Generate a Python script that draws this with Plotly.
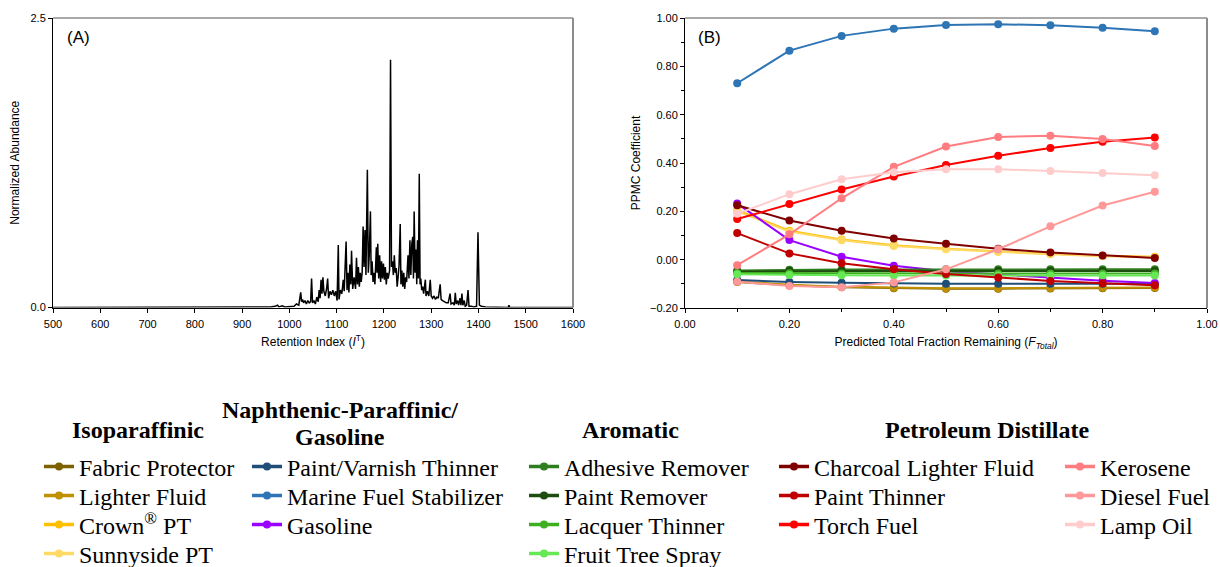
import plotly.graph_objects as go

W, H = 1220, 567

# ---------------- Panel A: chromatogram ----------------
ri = [500, 940, 960, 970, 975, 978, 985, 990, 1000, 1010, 1015, 1020, 1024, 1026, 1028, 1030,
      1033, 1036, 1039, 1042, 1045, 1047, 1049, 1052, 1055, 1058, 1061, 1063, 1065, 1067,
      1069, 1071, 1073, 1076, 1079, 1081, 1083, 1086, 1089, 1092, 1095, 1098, 1101, 1103.5,
      1105, 1108, 1111, 1114, 1116, 1120, 1122, 1124, 1126, 1128, 1130, 1131.5, 1134, 1137,
      1140, 1142, 1144, 1146, 1148, 1150, 1152, 1154, 1156, 1158, 1160, 1162, 1165, 1167,
      1169, 1171.5, 1173, 1175, 1177, 1179, 1181, 1184, 1185.5, 1187, 1189, 1191, 1193, 1195,
      1197, 1199, 1201, 1203, 1205, 1207, 1209, 1212, 1214, 1216, 1218, 1220, 1222, 1224,
      1226, 1228, 1230, 1232, 1234.5, 1236, 1238, 1240, 1242, 1244, 1246, 1248, 1251, 1253,
      1255, 1257, 1259, 1261, 1262.5, 1264, 1266, 1268, 1269.5, 1271, 1273, 1274.8, 1276.5,
      1278, 1280, 1282, 1284, 1287.7, 1289, 1292, 1295, 1298, 1300, 1303, 1306, 1309, 1312,
      1315, 1319, 1321, 1324, 1328, 1332, 1336, 1340, 1342, 1346, 1349, 1351, 1353, 1356,
      1358, 1361, 1363, 1365, 1367, 1370, 1372, 1375, 1378, 1380, 1385, 1390, 1396, 1399,
      1402, 1406, 1415, 1425, 1440, 1463, 1464.5, 1466, 1600]
abundance = [0, 0, 0.005, 0.01, 0.02, 0.005, 0.015, 0.005, 0.01, 0.01, 0.03, 0.02, 0.13, 0.05,
             0.07, 0.04, 0.06, 0.03, 0.06, 0.04, 0.05, 0.25, 0.04, 0.06, 0.03, 0.09, 0.05, 0.15,
             0.08, 0.24, 0.12, 0.26, 0.14, 0.10, 0.17, 0.25, 0.08, 0.14, 0.11, 0.15, 0.10, 0.14,
             0.06, 0.54, 0.07, 0.15, 0.12, 0.24, 0.14, 0.57, 0.15, 0.30, 0.13, 0.37, 0.20, 0.49,
             0.16, 0.26, 0.16, 0.43, 0.20, 0.35, 0.18, 0.30, 0.22, 0.30, 0.70, 0.35, 0.67, 0.28,
             1.19, 0.30, 0.45, 0.83, 0.28, 0.40, 0.22, 0.30, 0.20, 0.52, 0.30, 0.55, 0.25, 0.45,
             0.22, 0.40, 0.25, 0.38, 0.24, 0.35, 0.20, 0.30, 0.25, 0.32, 2.14, 0.35, 0.40, 0.28,
             0.45, 0.30, 0.34, 0.18, 0.26, 0.36, 0.72, 0.20, 0.32, 0.18, 0.30, 0.16, 0.26, 0.22,
             0.45, 0.25, 0.58, 0.28, 0.55, 0.61, 0.25, 0.83, 0.30, 0.50, 0.20, 0.58, 0.25, 1.155,
             0.20, 0.25, 0.15, 0.18, 0.12, 0.24, 0.10, 0.14, 0.10, 0.24, 0.10, 0.08, 0.10, 0.07,
             0.09, 0.08, 0.20, 0.07, 0.06, 0.05, 0.04, 0.04, 0.12, 0.03, 0.04, 0.02, 0.126, 0.03,
             0.06, 0.02, 0.08, 0.02, 0.12, 0.02, 0.06, 0.01, 0.02, 0.15, 0.01, 0.01, 0.005, 0.01,
             0.65, 0.02, 0.01, 0.005, 0.003, 0, 0, 0.02, 0, 0]

# ---------------- Panel B: PPMC coefficients ----------------
fraction = [0.1, 0.2, 0.3, 0.4, 0.5, 0.6, 0.7, 0.8, 0.9]

fabric_protector = [-0.092, -0.106, -0.114, -0.118, -0.120, -0.120, -0.119, -0.118, -0.117]
lighter_fluid = [-0.090, -0.104, -0.112, -0.116, -0.118, -0.118, -0.117, -0.116, -0.115]
crown_pt = [0.205, 0.120, 0.083, 0.060, 0.045, 0.034, 0.024, 0.016, 0.012]
sunnyside_pt = [0.200, 0.116, 0.080, 0.057, 0.043, 0.032, 0.022, 0.014, 0.010]
paint_varnish_thinner = [-0.084, -0.092, -0.096, -0.099, -0.100, -0.100, -0.100, -0.100, -0.100]
marine_fuel_stabilizer = [0.730, 0.865, 0.926, 0.956, 0.971, 0.974, 0.970, 0.960, 0.945]
gasoline = [0.232, 0.081, 0.012, -0.025, -0.048, -0.062, -0.076, -0.087, -0.097]
adhesive_remover = [-0.045, -0.042, -0.041, -0.041, -0.040, -0.040, -0.040, -0.040, -0.040]
paint_remover = [-0.050, -0.047, -0.047, -0.047, -0.047, -0.047, -0.047, -0.047, -0.047]
lacquer_thinner = [-0.055, -0.056, -0.057, -0.057, -0.057, -0.057, -0.057, -0.057, -0.057]
fruit_tree_spray = [-0.060, -0.063, -0.064, -0.065, -0.066, -0.066, -0.066, -0.066, -0.066]
charcoal_lighter_fluid = [0.225, 0.162, 0.120, 0.088, 0.066, 0.045, 0.030, 0.017, 0.007]
paint_thinner = [0.110, 0.026, -0.015, -0.040, -0.059, -0.074, -0.088, -0.098, -0.106]
torch_fuel = [0.168, 0.230, 0.290, 0.344, 0.392, 0.430, 0.462, 0.488, 0.506]
kerosene = [-0.023, 0.105, 0.254, 0.384, 0.468, 0.508, 0.513, 0.499, 0.470]
diesel_fuel = [-0.091, -0.109, -0.114, -0.094, -0.040, 0.043, 0.138, 0.224, 0.281]
lamp_oil = [0.190, 0.271, 0.333, 0.362, 0.374, 0.374, 0.367, 0.359, 0.349]

# legend group headers: (text, centre x px, visual centre y px)
group_headers = [("Isoparaffinic", 138, 430), ("Naphthenic-Paraffinic/", 340, 410),
                 ("Gasoline", 340, 437), ("Aromatic", 630, 430),
                 ("Petroleum Distillate", 987, 430)]

# (label, values, colour, key column text-x px, key row centre-y px)
series = [
    ("Fabric Protector", fabric_protector, "#7F6000", 80, 467),
    ("Lighter Fluid", lighter_fluid, "#BF9000", 80, 496),
    ("Crown<sup>®</sup> PT", crown_pt, "#FFC000", 80, 525),
    ("Sunnyside PT", sunnyside_pt, "#FFD966", 80, 554),
    ("Paint/Varnish Thinner", paint_varnish_thinner, "#1F4E79", 288, 467),
    ("Marine Fuel Stabilizer", marine_fuel_stabilizer, "#2E75B6", 288, 496),
    ("Gasoline", gasoline, "#9900FF", 288, 525),
    ("Adhesive Remover", adhesive_remover, "#2E7D1E", 565, 467),
    ("Paint Remover", paint_remover, "#1E4D10", 565, 496),
    ("Lacquer Thinner", lacquer_thinner, "#3FAF22", 565, 525),
    ("Fruit Tree Spray", fruit_tree_spray, "#66E855", 565, 554),
    ("Charcoal Lighter Fluid", charcoal_lighter_fluid, "#800000", 815, 467),
    ("Paint Thinner", paint_thinner, "#C00000", 815, 496),
    ("Torch Fuel", torch_fuel, "#FF0000", 815, 525),
    ("Kerosene", kerosene, "#FF7C80", 1101, 467),
    ("Diesel Fuel", diesel_fuel, "#FF9999", 1101, 496),
    ("Lamp Oil", lamp_oil, "#FFCCCC", 1101, 525),
]

fig = go.Figure()

fig.add_trace(go.Scatter(x=ri, y=abundance, mode="lines",
                         line=dict(color="black", width=1.5),
                         showlegend=False, xaxis="x", yaxis="y"))

for name, vals, color, _, _ in series:
    fig.add_trace(go.Scatter(x=fraction, y=vals, mode="lines+markers", name=name,
                             line=dict(color=color, width=2),
                             marker=dict(color=color, size=8),
                             showlegend=False, xaxis="x2", yaxis="y2"))


def px_x(p):
    return p / W


def px_y(p):
    return 1 - p / H


LEG_FONT = 24
legend_style = dict(font=dict(family="Liberation Serif, Times New Roman", size=LEG_FONT, color="black"),
                    bgcolor="rgba(0,0,0,0)", borderwidth=0, xanchor="left", yanchor="middle",
                    orientation="v", tracegroupgap=0, itemwidth=30)
layout_legends = {}
for i, (name, vals, color, tx, ty) in enumerate(series):
    lid = "legend" if i == 0 else "legend%d" % (i + 1)
    # key entry (styled like the reference key: thicker stroke)
    fig.add_trace(go.Scatter(x=[None], y=[None], mode="lines+markers", name=name,
                             line=dict(color=color, width=3.5),
                             marker=dict(color=color, size=8),
                             legend=lid, showlegend=True, xaxis="x2", yaxis="y2"))
    layout_legends[lid] = dict(x=px_x(tx - 41), y=px_y(ty), **legend_style)

axis_common = dict(showline=True, linecolor="black", linewidth=1, ticks="outside",
                   ticklen=4, tickcolor="black", showgrid=False, zeroline=False,
                   tickfont=dict(family="Liberation Sans, Arial", size=11, color="black"),
                   automargin=False)
title_font = dict(family="Liberation Sans, Arial", size=12, color="black")

fig.update_layout(
    width=W, height=H,
    margin=dict(l=0, r=0, t=0, b=0, autoexpand=False),
    paper_bgcolor="white", plot_bgcolor="white",
    xaxis=dict(domain=[px_x(53), px_x(573)], range=[500, 1600], dtick=100, tick0=500,
               ticklabelstandoff=2,
               title=dict(text="Retention Index (<i>I</i><sup>T</sup>)", standoff=8, font=title_font),
               anchor="y", **axis_common),
    yaxis=dict(domain=[px_y(307.5), px_y(18)], range=[0, 2.5], tickvals=[0, 2.5],
               ticktext=["0.0", "2.5"],
               title=dict(text="Normalized Abundance", standoff=8, font=title_font),
               anchor="x", **axis_common),
    xaxis2=dict(domain=[px_x(685), px_x(1207)], range=[0, 1], dtick=0.2, tick0=0,
                tickformat=".2f", ticklabelstandoff=2,
                minor=dict(dtick=0.1, ticks="outside", ticklen=3, tickcolor="black"),
                title=dict(text="Predicted Total Fraction Remaining (<i>F</i><sub><i>Total</i></sub>)",
                           standoff=8, font=title_font),
                anchor="y2", **axis_common),
    yaxis2=dict(domain=[px_y(308), px_y(18)], range=[-0.2, 1.0], dtick=0.2, tick0=0,
                tickformat=".2f",
                minor=dict(dtick=0.1, ticks="outside", ticklen=3, tickcolor="black"),
                title=dict(text="PPMC Coefficient", standoff=6, font=title_font),
                anchor="x2", **axis_common),
)
fig.update_layout(**layout_legends)

# frame lines (grey top/right borders)
for xr, yr in (("x domain", "y domain"), ("x2 domain", "y2 domain")):
    fig.add_shape(type="line", xref=xr, yref=yr, x0=0, x1=1, y0=1, y1=1,
                  line=dict(color="#8C8C8C", width=1.5))
    fig.add_shape(type="line", xref=xr, yref=yr, x0=1, x1=1, y0=0, y1=1,
                  line=dict(color="#8C8C8C", width=2))

# panel labels
fig.add_annotation(text="(A)", xref="x domain", yref="y domain", x=0.023, y=0.934,
                   xanchor="left", yanchor="middle", showarrow=False,
                   font=dict(family="Liberation Sans, Arial", size=17, color="black"))
fig.add_annotation(text="(B)", xref="x2 domain", yref="y2 domain", x=0.021, y=0.934,
                   xanchor="left", yanchor="middle", showarrow=False,
                   font=dict(family="Liberation Sans, Arial", size=17, color="black"))

# legend group headers
for txt, hx, hy in group_headers:
    fig.add_annotation(text="<b>" + txt + "</b>", xref="paper", yref="paper",
                       x=px_x(hx), y=px_y(hy), xanchor="center", yanchor="middle",
                       showarrow=False, align="center",
                       font=dict(family="Liberation Serif, Times New Roman", size=24, color="black"))

fig.write_html("out.html")
